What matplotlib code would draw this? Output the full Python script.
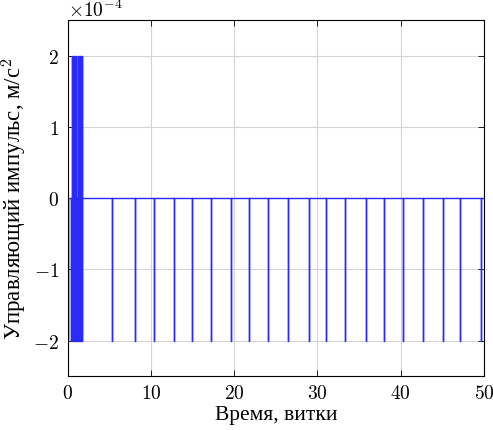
import numpy as np
import matplotlib
matplotlib.use('Agg')
from matplotlib import pyplot as plt
from matplotlib.ticker import ScalarFormatter

# pulse data (time in orbits, amplitude in m/s^2)
pos_t = [0.50, 0.56, 0.62, 0.68, 0.74, 0.80, 0.86, 0.92, 0.98,
         1.20, 1.26, 1.32, 1.38, 1.44, 1.50, 1.56, 1.62, 1.68, 1.74]
neg_t = [0.07, 0.36, 0.55, 0.61, 0.67, 0.73, 0.79, 0.85,
         0.97, 1.03, 1.09, 1.15, 1.28, 1.34, 1.40, 1.46, 1.52, 1.58, 1.64, 1.68,
         5.39, 8.06, 10.33, 12.77, 14.97, 17.25, 19.59, 21.83, 24.07, 26.47,
         28.93, 31.05, 33.33, 35.84, 38.04, 40.28, 42.63, 45.03, 47.14, 49.58]
pos_amp = 2e-4
neg_amp = -2e-4
t_end = 50

# build signal as line: 0 -> amp -> 0 at each pulse time
events = sorted([(t, pos_amp) for t in pos_t] + [(t, neg_amp) for t in neg_t])
xs = [0.0]
ys = [0.0]
for t, a in events:
    xs += [t, t, t]
    ys += [0.0, a, 0.0]
xs.append(t_end)
ys.append(0.0)

plt.rcParams['font.family'] = 'serif'
plt.rcParams['font.serif'] = ['cmr10']
plt.rcParams['mathtext.fontset'] = 'cm'
plt.rcParams['axes.formatter.use_mathtext'] = True

fig = plt.figure(figsize=(4.93, 4.31), dpi=100)
ax = fig.add_axes([0.137, 0.125, 0.845, 0.826])

ax.plot(xs, ys, color='#2a2aff', lw=1.0)

ax.set_xlim(0, 50)
ax.set_ylim(-2.5e-4, 2.5e-4)
ax.set_xticks([0, 10, 20, 30, 40, 50])
ax.set_yticks([-2e-4, -1e-4, 0, 1e-4, 2e-4])
fmt = ScalarFormatter(useMathText=True)
fmt.set_powerlimits((0, 0))
ax.yaxis.set_major_formatter(fmt)
ax.tick_params(direction='in', length=4, width=0.6, labelsize=14,
               top=True, right=True, pad=6)
ax.yaxis.get_offset_text().set_fontsize(14)
ax.grid(True, color='#d4d4d4', lw=0.8, ls='-')
ax.set_axisbelow(True)
for s in ax.spines.values():
    s.set_linewidth(0.8)

ax.set_xlabel('Время, витки', family='Liberation Serif', fontsize=15.5, labelpad=2)
ax.set_ylabel('Управляющий импульс, м/с$^2$', family='Liberation Serif', fontsize=16.5, labelpad=3)

plt.savefig('out.png', dpi=100)
